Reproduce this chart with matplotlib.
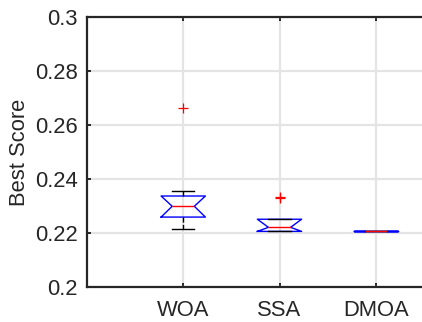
import matplotlib
matplotlib.use("Agg")
import matplotlib.pyplot as plt

plt.rcParams['font.family'] = ['Liberation Sans', 'DejaVu Sans']

categories = ["WOA", "SSA", "DMOA"]
q1 = [0.2259, 0.2206, 0.2206]
med = [0.2299, 0.2221, 0.2206]
q3 = [0.2337, 0.2251, 0.2206]
whislo = [0.2215, 0.2206, 0.2206]
whishi = [0.2356, 0.2251, 0.2206]
fliers = [[0.2662], [0.2333, 0.2329], []]
yticks = [0.2, 0.22, 0.24, 0.26, 0.28, 0.3]

W, H = 422, 322
fig = plt.figure(figsize=(W / 100, H / 100), dpi=100)
left, right, top, bottom = 87, 472, 17, 287
ax = fig.add_axes([left / W, (H - bottom) / H, (right - left) / W, (bottom - top) / H])

stats = []
for i, c in enumerate(categories):
    stats.append(dict(label=c, med=med[i], q1=q1[i], q3=q3[i],
                      whislo=whislo[i], whishi=whishi[i],
                      cilo=q1[i], cihi=q3[i], fliers=fliers[i]))

ax.bxp(stats, positions=[1, 2, 3], widths=0.46, shownotches=True, showfliers=True,
       boxprops=dict(color='#0000ff', linewidth=1.0),
       medianprops=dict(color='#ff0000', linewidth=1.0),
       whiskerprops=dict(color='black', linewidth=1.0, linestyle='--'),
       capprops=dict(color='black', linewidth=1.0),
       flierprops=dict(marker='+', markeredgecolor='#ff0000', markersize=7,
                       linestyle='none', markeredgewidth=0.9))

ax.set_xlim(0, 4)
ax.set_ylim(0.2, 0.3)
ax.set_xticks([1, 2, 3])
ax.set_xticklabels(categories)
ax.set_yticks(yticks)
ax.set_yticklabels([f"{v:g}" for v in yticks])
ax.grid(True, color='#e4e4e4', linewidth=1.6)
ax.set_axisbelow(True)

for s in ax.spines.values():
    s.set_linewidth(1.6)
    s.set_color('#262626')
ax.tick_params(direction='in', length=3, width=1.4, color='#262626',
               top=True, right=True, labelsize=15.8, labelcolor='#262626')
ax.tick_params(axis='y', pad=6.5)
ax.tick_params(axis='x', pad=9)
ax.set_ylabel("Best Score", fontsize=15.8, color='#262626', labelpad=4)

fig.savefig("out.png", dpi=100)
